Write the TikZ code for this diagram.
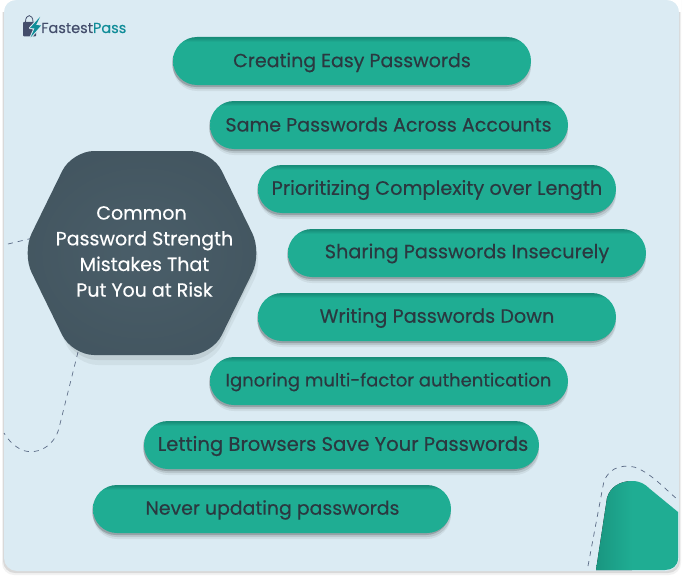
\documentclass[tikz,border=0pt]{standalone}
\usepackage{fontspec}
\setmainfont{Poppins}
\newfontfamily\pillfont{Poppins}[FakeBold=0.35]
\usetikzlibrary{shapes.misc,shadows}
\definecolor{cardbg}{HTML}{DBEBF3}
\definecolor{tealm}{HTML}{1FAD93}
\definecolor{teald}{HTML}{178C78}
\definecolor{ink}{HTML}{2B3840}
\definecolor{slatem}{HTML}{4A5E69}
\definecolor{slated}{HTML}{3F515B}
\definecolor{dashc}{HTML}{5A6A85}
\definecolor{logod}{HTML}{434D6B}
\definecolor{logot}{HTML}{0F8C98}
\pgfdeclareverticalshading{pillshade}{100bp}{color(0bp)=(tealm); color(70bp)=(tealm); color(74.5bp)=(teald); color(100bp)=(teald)}
\tikzset{
  pill/.style={rounded rectangle,minimum height=48pt,inner sep=0pt,shading=pillshade,
    general shadow={fill=black,opacity=.06,shadow xshift=0pt,shadow yshift=-6pt},
    general shadow={fill=black,opacity=.10,shadow xshift=0pt,shadow yshift=-4pt},
    general shadow={fill=black,opacity=.18,shadow xshift=-1pt,shadow yshift=-2pt}},
  pilltext/.style={text=ink,inner sep=0pt,anchor=center},
  pillsize/.style={font=\pillfont\fontsize{#1}{23}\selectfont},
  deco/.style={dashc,line width=.7pt,dash pattern=on 5pt off 5pt},
}
\begin{document}
\begin{tikzpicture}[x=1pt,y=-1pt]
\useasboundingbox (0,0) rectangle (682,578);
\fill[white] (0,0) rectangle (682,578);
% card
\fill[black,opacity=.05,rounded corners=12pt] (2,-14) -- (2,575) -- (681,575) -- (681,-14) -- cycle;
\fill[black,opacity=.10,rounded corners=12pt] (3,-14) -- (3,573) -- (680,573) -- (680,-14) -- cycle;
\path[fill=cardbg,rounded corners=13pt] (4,-14) -- (4,571) -- (679,571) -- (679,-14) -- cycle;
\path[fill=white] (2,0) -- (16,0) .. controls (9,0) and (4,5) .. (4,12) -- (2,12) -- cycle;
\path[fill=white] (681,0) -- (667,0) .. controls (674,0) and (679,5) .. (679,12) -- (681,12) -- cycle;
% decoration curves
\draw[deco] (8,244) -- (33,238);
\draw[deco] (78,352) -- (59,428) .. controls (55,445) and (38,456) .. (22,450) .. controls (14,446) and (9,441) .. (4,433);
\draw[deco] (588,566) -- (603,486) .. controls (606,469) and (620,464) .. (634,467) .. controls (650,472) and (665,489) .. (677,499);
% corner shape
\begin{scope}
\clip (596,570) -- (607,498) .. controls (610,487) and (620,481) .. (632,481) .. controls (640,481) and (645,484) .. (650,489) -- (678,512) -- (678,558) .. controls (678,566) and (672,570) .. (665,570) -- cycle;
\fill[left color=teald!70!tealm,right color=tealm] (596,470) rectangle (632,575);
\fill[tealm] (632,470) rectangle (680,575);
\end{scope}
% hexagon
\fill[black,opacity=.05,rounded corners=22pt] (26,260) -- (76,163) -- (212,163) -- (264,260) -- (212,365) -- (76,365) -- cycle;
\fill[black,opacity=.07,rounded corners=22pt] (26,256) -- (75,157) -- (212,157) -- (262,256) -- (212,360) -- (75,360) -- cycle;
\path[inner color=slatem,outer color=slated!60!slatem,rounded corners=22pt] (22,253) -- (72,151) -- (212,151) -- (262,253) -- (212,355) -- (72,355) -- cycle;
\node[text=white,font=\pillfont\fontsize{19}{25.7}\selectfont,align=center,inner sep=0pt] (hub) at (144.5,251.5) {Common\hspace*{6pt}\\Password Strength\\Mistakes That\hspace*{7pt}\\Put You at Risk};
% pills
\node[pill,minimum width=358pt] (p1) at (352,61) {};
\node[pill,minimum width=358pt] (p2) at (389,125) {};
\node[pill,minimum width=358pt] (p3) at (437,189) {};
\node[pill,minimum width=358pt] (p4) at (467,253) {};
\node[pill,minimum width=358pt] (p5) at (437,317) {};
\node[pill,minimum width=358pt] (p6) at (389,381) {};
\node[pill,minimum width=395pt] (p7) at (341.5,445) {};
\node[pill,minimum width=358pt] (p8) at (272,509) {};
\node[pilltext,pillsize=19] (t1) at (352,62.5) {Creating Easy Passwords};
\node[pilltext,pillsize=19.1] (t2) at (388.5,124.5) {Same Passwords Across Accounts};
\node[pilltext,pillsize=19.35] (t3) at (437,190) {Prioritizing Complexity over Length};
\node[pilltext,pillsize=19.25] (t4) at (467,253.5) {Sharing Passwords Insecurely};
\node[pilltext,pillsize=19.25] (t5) at (437,318) {Writing Passwords Down};
\node[pilltext,pillsize=18] (t6) at (388.5,382) {Ignoring multi-factor authentication};
\node[pilltext,pillsize=19.6] (t7) at (343,446) {Letting Browsers Save Your Passwords};
\node[pilltext,pillsize=18.9] (t8) at (272.5,510) {Never updating passwords};
% logo
\fill[logod,rounded corners=1pt] (23,22) -- (36,22) -- (36,36.5) -- (23,36.5) -- cycle;
\draw[logod,line width=.8pt] (25.5,22) .. controls (25.5,13.5) and (33,13.5) .. (33,22);
\draw[cardbg,line width=2pt,fill=logot,line join=round] (40,17) -- (30,28) -- (34.5,28.5) -- (30.5,37.5) -- (41,25.5) -- (36,25) -- cycle;
\fill[logot] (40,17) -- (30,28) -- (34.5,28.5) -- (30.5,37.5) -- (41,25.5) -- (36,25) -- cycle;
\node[inner sep=0pt,anchor=west,font=\pillfont\fontsize{14.5}{16}\selectfont] (logo) at (41,28) {\textcolor{logod}{Fastest}\textcolor{logot}{Pass}};
\end{tikzpicture}
\end{document}
